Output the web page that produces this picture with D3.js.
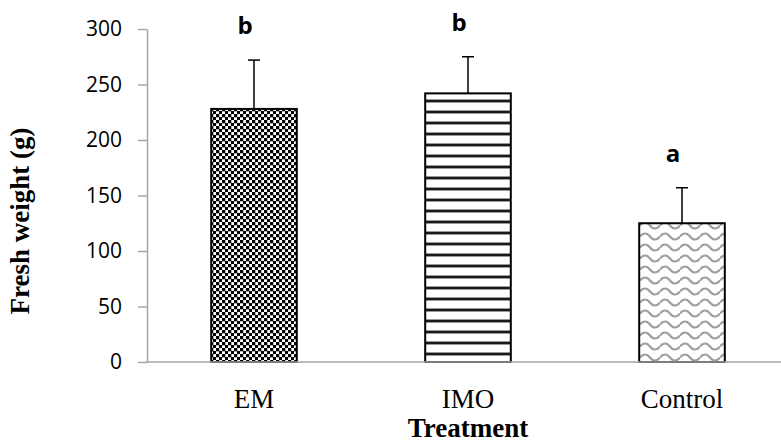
<!DOCTYPE html>
<html>
<head>
<meta charset="utf-8">
<script src="https://cdn.jsdelivr.net/npm/d3@7"></script>
<style>
  body { margin: 0; background: #fff; }
  svg { display: block; }
</style>
</head>
<body>
<svg id="chart"></svg>
<script>
var categories = ["EM", "IMO", "Control"]
var means = [228, 242, 125]
var errUp = [44, 33, 32]
var letters = ["b", "b", "a"]
var yTicks = [0, 50, 100, 150, 200, 250, 300]
var patterns = ["checker", "stripes", "waves"]

var width = 781
var height = 442

const svg = d3.select("#chart")
	.attr("width", width)
	.attr("height", height)
	.attr("viewBox", [0, 0, width, height]);

const x = d3.scaleBand()
	.domain(categories)
	.range([147, 789])
	.paddingInner(0.6)
	.paddingOuter(0.3);

const y = d3.scaleLinear()
	.domain([0, 300])
	.range([362, 29]);

// fill patterns
const defs = svg.append("defs");

const checker = defs.append("pattern")
	.attr("id", "checker")
	.attr("patternUnits", "userSpaceOnUse")
	.attr("width", 6).attr("height", 6);
checker.append("rect").attr("width", 6).attr("height", 6).attr("fill", "#fff");
checker.append("rect").attr("width", 3.3).attr("height", 3.3).attr("fill", "#000");
checker.append("rect").attr("x", 3).attr("y", 3).attr("width", 3).attr("height", 3).attr("fill", "#000");

const stripes = defs.append("pattern")
	.attr("id", "stripes")
	.attr("patternUnits", "userSpaceOnUse")
	.attr("width", 10).attr("height", 11);
stripes.append("rect").attr("width", 10).attr("height", 11).attr("fill", "#fff");
stripes.append("rect").attr("y", 0).attr("width", 10).attr("height", 1).attr("fill", "#999");
stripes.append("rect").attr("y", 1).attr("width", 10).attr("height", 2).attr("fill", "#1a1a1a");
stripes.append("rect").attr("y", 3).attr("width", 10).attr("height", 1).attr("fill", "#999");

const waves = defs.append("pattern")
	.attr("id", "waves")
	.attr("patternUnits", "userSpaceOnUse")
	.attr("width", 20).attr("height", 11);
waves.append("rect").attr("width", 20).attr("height", 11).attr("fill", "#fff");
waves.append("path")
	.attr("d", "M0,5.5 C3,1.5 7,1.5 10,5.5 C13,9.5 17,9.5 20,5.5")
	.attr("fill", "none")
	.attr("stroke", "#a0a0a0")
	.attr("stroke-width", 2.2);

// y axis
const yAxis = svg.append("g")
	.attr("transform", "translate(147,0)")
	.call(d3.axisLeft(y).tickValues(yTicks).tickSize(9).tickPadding(16).tickSizeOuter(0));
yAxis.select(".domain").attr("stroke", "#a6a6a6").attr("stroke-width", 1.5);
yAxis.selectAll(".tick line").attr("stroke", "#a6a6a6").attr("stroke-width", 1.5);
yAxis.selectAll(".tick text")
	.attr("fill", "#000")
	.style("font", "21px 'Open Sans', sans-serif");

// bars
svg.append("g")
	.selectAll("rect")
	.data(categories)
	.join("rect")
	.attr("x", d => x(d))
	.attr("y", (d, i) => y(means[i]))
	.attr("width", x.bandwidth())
	.attr("height", (d, i) => y(0) - y(means[i]))
	.attr("fill", (d, i) => "url(#" + patterns[i] + ")")
	.attr("stroke", "#000")
	.attr("stroke-width", 2);

// x axis line
svg.append("line")
	.attr("x1", 146).attr("x2", width)
	.attr("y1", y(0)).attr("y2", y(0))
	.attr("stroke", "#a6a6a6")
	.attr("stroke-width", 1.5);

// error bars (upper only)
const err = svg.append("g")
	.selectAll("g")
	.data(categories)
	.join("g");
err.append("line")
	.attr("x1", d => x(d) + x.bandwidth() / 2)
	.attr("x2", d => x(d) + x.bandwidth() / 2)
	.attr("y1", (d, i) => y(means[i]))
	.attr("y2", (d, i) => y(means[i] + errUp[i]))
	.attr("stroke", "#000")
	.attr("stroke-width", 1.5);
err.append("line")
	.attr("x1", d => x(d) + x.bandwidth() / 2 - 6)
	.attr("x2", d => x(d) + x.bandwidth() / 2 + 6)
	.attr("y1", (d, i) => y(means[i] + errUp[i]))
	.attr("y2", (d, i) => y(means[i] + errUp[i]))
	.attr("stroke", "#000")
	.attr("stroke-width", 1.5);

// significance letters
svg.append("g")
	.selectAll("text")
	.data(categories)
	.join("text")
	.attr("x", d => x(d) + x.bandwidth() / 2 - 9)
	.attr("y", (d, i) => y(means[i] + errUp[i]) - 26)
	.attr("text-anchor", "middle")
	.style("font", "bold 24px 'Open Sans', sans-serif")
	.text((d, i) => letters[i]);

// category labels
svg.append("g")
	.selectAll("text")
	.data(categories)
	.join("text")
	.attr("x", d => x(d) + x.bandwidth() / 2)
	.attr("y", 408)
	.attr("text-anchor", "middle")
	.style("font", "27px 'Liberation Serif', 'Times New Roman', serif")
	.text(d => d);

// axis titles
svg.append("text")
	.attr("x", 468)
	.attr("y", 437)
	.attr("text-anchor", "middle")
	.style("font", "bold 27px 'Liberation Serif', 'Times New Roman', serif")
	.text("Treatment");

svg.append("text")
	.attr("transform", "translate(29,221) rotate(-90)")
	.attr("text-anchor", "middle")
	.style("font", "bold 27px 'Liberation Serif', 'Times New Roman', serif")
	.text("Fresh weight (g)");
</script>
</body>
</html>
